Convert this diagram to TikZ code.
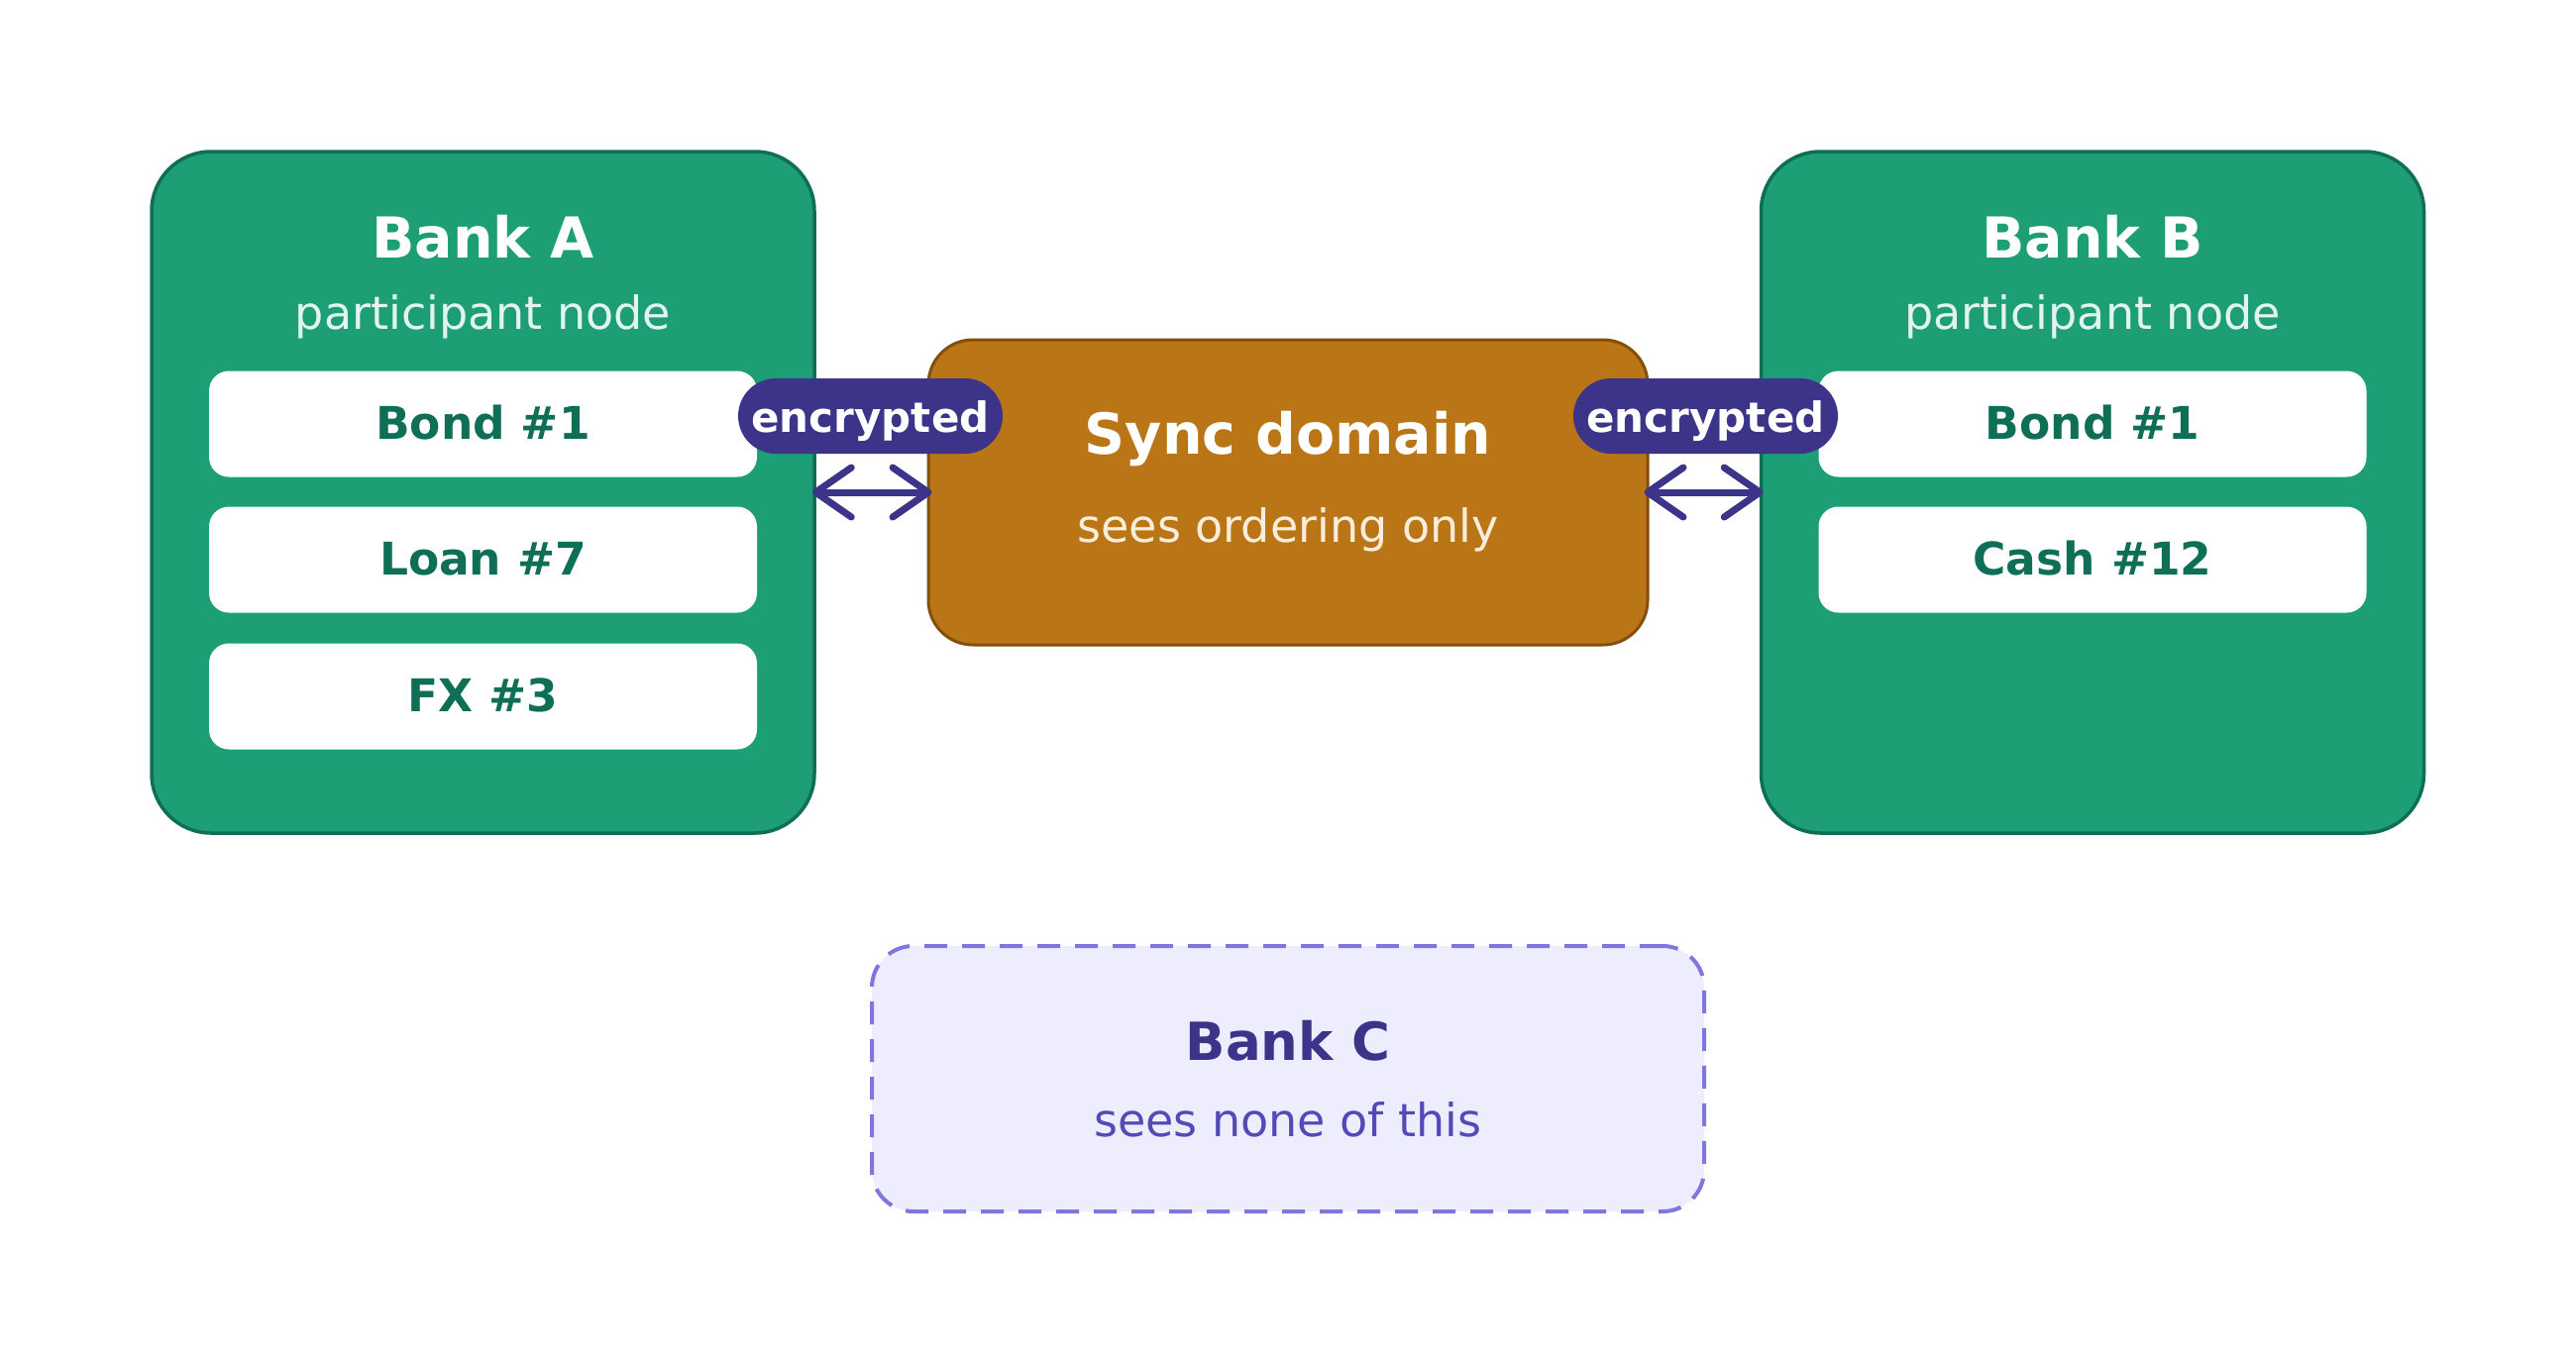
\documentclass[tikz,border=0pt]{standalone}
\usepackage{fontspec}
\setmainfont{DejaVu Sans}
\usetikzlibrary{arrows.meta}
\definecolor{gfill}{HTML}{1D9E75}
\definecolor{gdark}{HTML}{0F6E56}
\definecolor{gsub}{HTML}{E1F5EE}
\definecolor{sfill}{HTML}{BA7517}
\definecolor{sdark}{HTML}{854F0B}
\definecolor{ssub}{HTML}{FAEEDA}
\definecolor{pfill}{HTML}{3C3489}
\definecolor{cfill}{HTML}{EEEDFE}
\definecolor{cline}{HTML}{7F77DD}
\definecolor{csub}{HTML}{534AB7}
\tikzset{
  bankbox/.style={draw=gdark, line width=3.5pt, fill=gfill, rounded corners=60pt, minimum width=669pt, minimum height=688pt, inner sep=0pt},
  itembox/.style={fill=white, rounded corners=20pt, minimum width=553pt, minimum height=107pt, inner sep=0pt},
  syncbox/.style={draw=sdark, line width=3pt, fill=sfill, rounded corners=45pt, minimum width=726pt, minimum height=308pt, inner sep=0pt},
  pill/.style={fill=pfill, rounded corners=38pt, minimum width=267pt, minimum height=76pt, inner sep=0pt},
  cbox/.style={draw=cline, line width=4pt, dash pattern=on 23pt off 15pt, fill=cfill, rounded corners=42pt, minimum width=840pt, minimum height=268pt, inner sep=0pt},
  txt/.style={anchor=base, inner sep=0pt},
  ttl/.style={txt, font=\fontsize{57}{60}\selectfont\bfseries},
  sub/.style={txt, font=\fontsize{46}{50}\selectfont},
  itm/.style={txt, font=\fontsize{45.5}{50}\selectfont\bfseries, text=gdark},
  enc/.style={txt, font=\fontsize{42}{46}\selectfont\bfseries, text=white},
  arr/.style={draw=pfill, line width=7pt, {Straight Barb[length=36pt,width=50pt,round]}-{Straight Barb[length=36pt,width=50pt,round]}}
}
\begin{document}
\begin{tikzpicture}[x=1pt,y=-1pt]
\useasboundingbox (0,0) rectangle (2600,1376);
\fill[white] (0,0) rectangle (2600,1376);
% bank boxes
\node[bankbox] (bankA) at (487.5,497) {};
\node[bankbox] (bankB) at (2112,497) {};
\node[syncbox] (sync) at (1300,497) {};
\node[cbox] (bankC) at (1300,1089) {};
% items
\node[itembox] (a1) at (487.5,428) {};
\node[itembox] (a2) at (487.5,565) {};
\node[itembox] (a3) at (487.5,703) {};
\node[itembox] (b1) at (2112,428) {};
\node[itembox] (b2) at (2112,565) {};
% texts
\node[ttl, text=white] (tA) at (487.5,260) {Bank A};
\node[sub, text=gsub] (sA) at (487.5,332) {participant node};
\node[ttl, text=white] (tB) at (2112,260) {Bank B};
\node[sub, text=gsub] (sB) at (2112,332) {participant node};
\node[itm] (la1) at (487.5,443) {Bond \#1};
\node[itm] (la2) at (487.5,580) {Loan \#7};
\node[itm] (la3) at (487.5,718) {FX \#3};
\node[itm] (lb1) at (2112,443) {Bond \#1};
\node[itm] (lb2) at (2112,580) {Cash \#12};
\node[ttl, text=white] (tS) at (1300,458) {Sync domain};
\node[sub, text=ssub] (sS) at (1300,547) {sees ordering only};
\node[ttl, text=pfill, font=\fontsize{53}{58}\selectfont\bfseries] (tC) at (1300,1070) {Bank C};
\node[sub, text=csub] (sC) at (1300,1147) {sees none of this};
% arrows
\draw[arr, shorten <=-4pt, shorten >=-5pt] (bankA.east |- 0,497) -- (sync.west |- 0,497);
\draw[arr, shorten <=-5pt, shorten >=-4pt] (sync.east |- 0,497) -- (bankB.west |- 0,497);
% pills
\node[pill] (p1) at (878.5,420) {};
\node[pill] (p2) at (1721.5,420) {};
\node[enc] (e1) at (878.5,436) {encrypted};
\node[enc] (e2) at (1721.5,436) {encrypted};
\end{tikzpicture}
\end{document}
